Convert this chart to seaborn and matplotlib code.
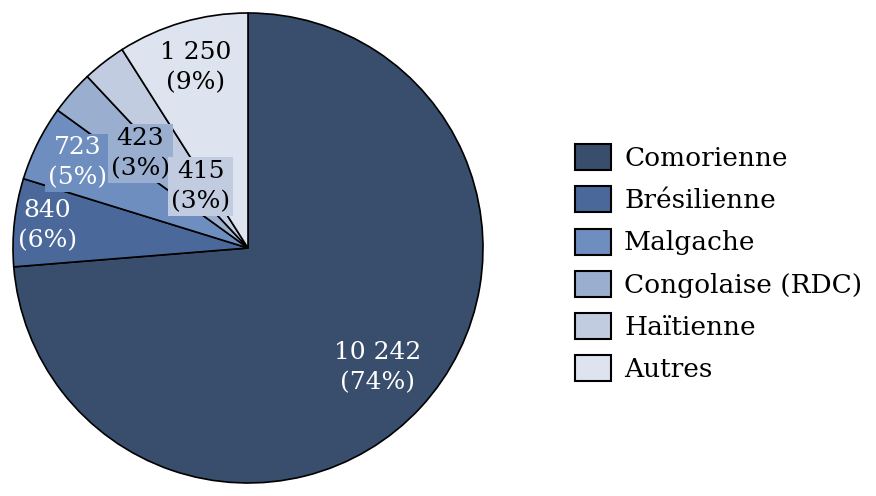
import numpy as np
import matplotlib
matplotlib.use("Agg")
from matplotlib import pyplot as plt
from matplotlib.patches import Patch
import seaborn as sns

nationalites = ['Comorienne', 'Brésilienne', 'Malgache', 'Congolaise (RDC)', 'Haïtienne', 'Autres']
effectifs = [10242, 840, 723, 423, 415, 1250]

sns.set_theme(style='white')
plt.rcParams['font.family'] = ['DejaVu Serif']

couleurs = ['#394d6d', '#4a6899', '#6d8ebf', '#9aaecf', '#c2cce1', '#dde3ef']
couleurs_texte = ['white', 'white', 'white', 'black', 'black', 'black']
# distance du centre pour chaque etiquette (fraction du rayon) et fond visible ou non
dist_label = [0.75, 0.86, 0.81, 0.61, 0.33, 0.80]
avec_fond = [False, False, True, True, True, False]

fig = plt.figure(figsize=(8.76, 4.96), dpi=100)
ax = fig.add_axes([13 / 876, 13 / 496, 470 / 876, 470 / 496])

wedges, _ = ax.pie(effectifs, colors=couleurs, startangle=90, counterclock=False,
                   wedgeprops=dict(edgecolor='black', linewidth=1.2))
ax.set_xlim(-1, 1)
ax.set_ylim(-1, 1)
ax.axis('off')

total = sum(effectifs)
for w, val, col, tc, d, fond in zip(wedges, effectifs, couleurs, couleurs_texte, dist_label, avec_fond):
    ang = np.deg2rad((w.theta1 + w.theta2) / 2)
    txt = f"{val:,}".replace(',', ' ') + f"\n({val / total * 100:.0f}%)"
    bbox = dict(facecolor=col, edgecolor='none', pad=2) if fond else None
    ax.text(d * np.cos(ang), d * np.sin(ang), txt, ha='center', va='center',
            fontsize=18, color=tc, linespacing=1.4, bbox=bbox)

handles = [Patch(facecolor=c, edgecolor='black', linewidth=1.5) for c in couleurs]
fig.legend(handles, nationalites, loc='upper left', bbox_to_anchor=(575 / 876, 1 - 144 / 496),
           frameon=False, fontsize=19, handlelength=1.36, handleheight=1.14,
           handletextpad=0.5, labelspacing=0.58, borderpad=0, borderaxespad=0,
           labelcolor='black')

fig.savefig('out.png', dpi=100)
